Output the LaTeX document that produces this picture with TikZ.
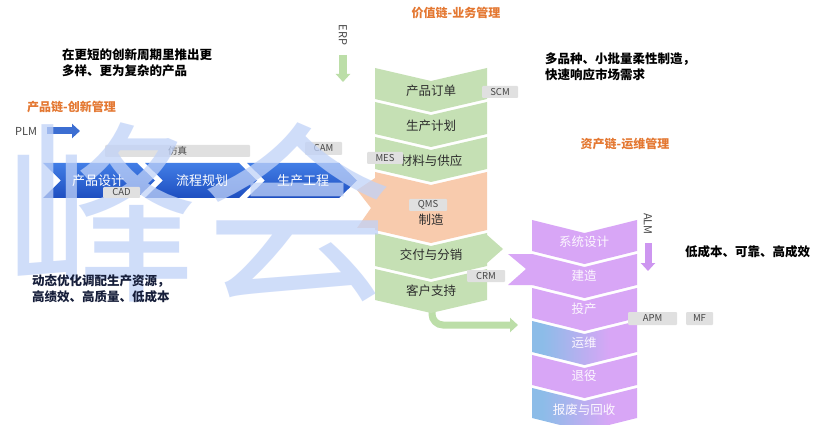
\documentclass[tikz,border=0pt]{standalone}
\usepackage{fontspec}
\setmainfont{Noto Sans CJK SC}
\usetikzlibrary{arrows.meta}
\definecolor{grn}{RGB}{197,224,180}
\definecolor{grnarr}{RGB}{188,222,168}
\definecolor{org}{RGB}{248,203,173}
\definecolor{purp}{RGB}{216,166,246}
\definecolor{purparr}{RGB}{205,150,240}
\definecolor{wblue}{RGB}{140,188,232}
\definecolor{btop}{RGB}{66,126,230}
\definecolor{bbot}{RGB}{30,78,192}
\definecolor{barrc}{RGB}{60,110,210}
\definecolor{hdr}{RGB}{228,120,50}
\definecolor{labf}{RGB}{224,224,224}
\definecolor{labt}{RGB}{70,70,70}
\definecolor{rowt}{RGB}{45,45,45}
\definecolor{wm}{RGB}{192,210,248}
\definecolor{navy}{RGB}{22,30,58}
\pgfdeclarehorizontalshading{bp}{100bp}{color(0bp)=(wblue); color(30bp)=(wblue); color(62bp)=(purp); color(100bp)=(purp)}
\newcommand\dchev[5]{\path[#1] (#2,#4) -- ({(#2+#3)/2},{#4+13}) -- (#3,#4) -- (#3,#5) -- ({(#2+#3)/2},{#5+13}) -- (#2,#5) -- cycle;}
\newcommand\rchev[5]{\path[#1] (#2,#4) -- ({#3-18},#4) -- (#3,{(#4+#5)/2}) -- ({#3-18},#5) -- (#2,#5) -- ({#2+18},{(#4+#5)/2}) -- cycle;}
\tikzset{
  lab/.style={fill=labf, text=labt, rounded corners=1pt, inner sep=0pt, font=\fontsize{9.5}{10}\selectfont},
  rowtxt/.style={text=rowt, inner sep=0pt, font=\fontsize{12.5}{14}\selectfont},
  ptxt/.style={text=white!92!purp, inner sep=0pt, font=\fontsize{12.5}{14}\selectfont},
  btxt/.style={text=white, inner sep=0pt, font=\fontsize{13}{14}\selectfont},
  hdrtxt/.style={text=hdr, inner sep=0pt, font=\fontsize{12}{14}\selectfont\bfseries},
  bigtxt/.style={text=black, inner sep=0pt, align=left, font=\fontsize{12.5}{16}\selectfont\bfseries},
  sys/.style={text=labt, inner sep=0pt, font=\fontsize{11}{12}\selectfont},
  barr/.style={line width=7pt, -{Triangle[width=14pt,length=8pt]}},
}
\begin{document}
\begin{tikzpicture}[x=1pt,y=-1pt]
\useasboundingbox (0,0) rectangle (820,425);
\fill[white] (0,0) rectangle (820,425);

% ---- arrows (drawn under shapes)
\coordinate (plmS) at (47,131);
\coordinate (plmE) at (80,131);
\draw[barr, barrc] (plmS) -- (plmE);
\coordinate (erpS) at (343,55);
\coordinate (erpE) at (343,82);
\draw[barr, line width=8pt, grnarr] (erpS) -- (erpE);
\coordinate (almS) at (648,243);
\coordinate (almE) at (648,271);
\draw[barr, purparr] (almS) -- (almE);
\coordinate (gcS) at (432,300);
\coordinate (gcE) at (518,325);
\draw[barr, grnarr, rounded corners=11pt] (gcS) |- (gcE);

% ---- blue chevrons (product chain)
\rchev{top color=btop,bottom color=bbot}{43}{155}{163}{198}
\rchev{top color=btop,bottom color=bbot}{145}{257}{163}{198}
\rchev{top color=btop,bottom color=bbot}{247}{357}{163}{198}

% ---- value chain column
\fill[org] (375,178) -- (357,190) -- (371,208) -- (357,228) -- (375,228) -- cycle;
\fill[grn] (486,234) -- (503,249) -- (486,264) -- cycle;
\dchev{fill=grn}{375}{487}{68}{99}
\dchev{fill=grn}{375}{487}{102}{134}
\dchev{fill=grn}{375}{487}{137}{169}
\dchev{fill=org}{375}{487}{172}{230}
\dchev{fill=grn}{375}{487}{233}{266}
\dchev{fill=grn}{375}{487}{269}{300}

% ---- asset chain column
\fill[purp] (533,254) -- (508,254) -- (526,269) -- (508,285) -- (533,285) -- cycle;
\dchev{fill=purp}{532}{637}{220}{251}
\dchev{fill=purp}{532}{637}{254}{285}
\dchev{fill=purp}{532}{637}{288}{318}
\dchev{shading=bp}{532}{637}{321}{352}
\dchev{fill=purp}{532}{637}{355}{385}
\dchev{shading=bp}{532}{637}{388}{418}

% ---- system labels under the watermark
\node[lab, minimum width=145pt, minimum height=12pt] (fz) at (177.5,151) {仿真};
\node[lab, minimum width=37pt, minimum height=13pt] (cam) at (323.5,148.5) {CAM};

% ---- watermark
\node[text=wm, opacity=0.75, inner sep=0pt, font=\fontsize{195}{195}\selectfont] (wmk) at (200,212) {峰会};

% ---- texts in shapes
\node[btxt] (pd) at (98,181) {产品设计};
\node[btxt] (lc) at (202,181) {流程规划};
\node[btxt] (sc) at (303,181) {生产工程};
\node[rowtxt] (dd) at (431,91) {产品订单};
\node[rowtxt] (jh) at (431,126) {生产计划};
\node[rowtxt] (cl) at (431,161) {材料与供应};
\node[rowtxt] (zz) at (431,220) {制造};
\node[rowtxt] (jf) at (431,255) {交付与分销};
\node[rowtxt] (kh) at (431,291) {客户支持};
\node[ptxt] (xt) at (584,242) {系统设计};
\node[ptxt] (jz) at (584,276) {建造};
\node[ptxt] (tc) at (584,309) {投产};
\node[ptxt] (yw) at (584,343) {运维};
\node[ptxt] (ty) at (584,376) {退役};
\node[ptxt] (bf) at (584,410) {报废与回收};

% ---- system labels over the texts
\node[lab, minimum width=37pt, minimum height=11pt] (cad) at (121.5,192.5) {CAD};
\node[lab, minimum width=36pt, minimum height=12pt] (mes) at (385,158) {MES};
\node[lab, minimum width=36pt, minimum height=12pt] (scm) at (500,92) {SCM};
\node[lab, minimum width=38pt, minimum height=12pt] (qms) at (428,205) {QMS};
\node[lab, minimum width=38pt, minimum height=12pt] (crm) at (486,276) {CRM};
\node[lab, minimum width=49pt, minimum height=13pt] (apm) at (652.5,318.5) {APM};
\node[lab, minimum width=27pt, minimum height=13pt] (mf) at (699.5,318.5) {MF};

% ---- free texts
\node[sys, anchor=center] (plm) at (26,131) {PLM};
\node[sys, rotate=-90] (erp) at (343,35) {ERP};
\node[sys, rotate=-90] (alm) at (648,224) {ALM};
\node[hdrtxt, anchor=west] (h1) at (27,107) {产品链-创新管理};
\node[hdrtxt] (h2) at (456,13) {价值链-业务管理};
\node[hdrtxt] (h3) at (625,144) {资产链-运维管理};
\node[bigtxt, anchor=north west] (t1) at (62,49) {在更短的创新周期里推出更\\多样、更为复杂的产品};
\node[bigtxt, anchor=north west] (t2) at (545,53) {多品种、小批量柔性制造，\\快速响应市场需求};
\node[bigtxt, anchor=west] (t3) at (685,252) {低成本、可靠、高成效};
\node[bigtxt, text=navy, anchor=north west] (t4) at (32,274) {动态优化调配生产资源，\\高绩效、高质量、低成本};
\end{tikzpicture}
\end{document}
